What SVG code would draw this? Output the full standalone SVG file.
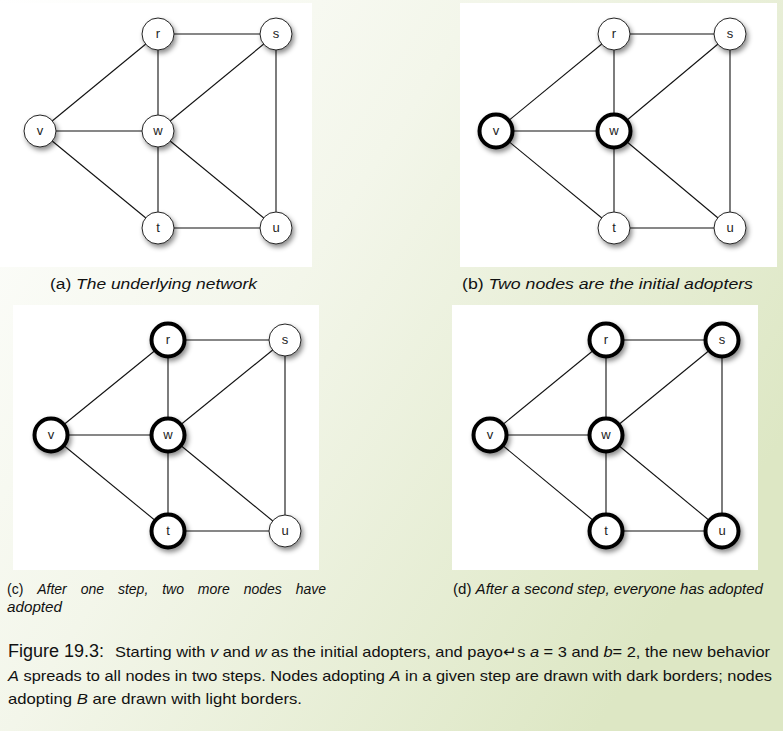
<svg xmlns="http://www.w3.org/2000/svg" width="783" height="731" viewBox="0 0 783 731">
<defs>
<linearGradient id="bg" x1="0" y1="0" x2="1" y2="0.6">
<stop offset="0" stop-color="#ffffff"/>
<stop offset="0.45" stop-color="#f3f6ea"/>
<stop offset="1" stop-color="#dde7c4"/>
</linearGradient>
<filter id="sh" x="-50%" y="-50%" width="200%" height="200%">
<feDropShadow dx="2" dy="3" stdDeviation="2.5" flood-color="#000" flood-opacity="0.45"/>
</filter>
</defs>
<style>
.panel{fill:#ffffff}
.e{stroke:#111;stroke-width:1.1;fill:none}
.n{fill:#fff;stroke:#222;stroke-width:1;filter:url(#sh)}
.n.a{stroke:#000;stroke-width:4}
.lb{font-family:"Liberation Sans",Arial,sans-serif;font-size:13px;fill:#222;text-anchor:middle}
.cap{font-family:"Liberation Sans",Arial,sans-serif;font-size:14px;fill:#111}
.it{font-style:italic}
.fig{font-family:"Liberation Sans",Arial,sans-serif;font-size:15px;fill:#111}
</style>
<rect x="0" y="0" width="783" height="731" fill="url(#bg)"/>
<rect class="panel" x="0" y="3" width="312" height="264"/>
<rect class="panel" x="460" y="3" width="317" height="264"/>
<rect class="panel" x="13" y="305" width="306" height="265"/>
<rect class="panel" x="452" y="305" width="306" height="265"/>

<g id="connectors">
<g>
<line class="e" x1="158" y1="34" x2="276" y2="34"/>
<line class="e" x1="158" y1="34" x2="40" y2="131"/>
<line class="e" x1="158" y1="34" x2="158" y2="131"/>
<line class="e" x1="276" y1="34" x2="158" y2="131"/>
<line class="e" x1="276" y1="34" x2="276" y2="228"/>
<line class="e" x1="40" y1="131" x2="158" y2="131"/>
<line class="e" x1="40" y1="131" x2="158" y2="228"/>
<line class="e" x1="158" y1="131" x2="158" y2="228"/>
<line class="e" x1="158" y1="131" x2="276" y2="228"/>
<line class="e" x1="158" y1="228" x2="276" y2="228"/>
</g>
<g>
<line class="e" x1="614" y1="34" x2="730" y2="34"/>
<line class="e" x1="614" y1="34" x2="496" y2="131"/>
<line class="e" x1="614" y1="34" x2="614" y2="131"/>
<line class="e" x1="730" y1="34" x2="614" y2="131"/>
<line class="e" x1="730" y1="34" x2="730" y2="228"/>
<line class="e" x1="496" y1="131" x2="614" y2="131"/>
<line class="e" x1="496" y1="131" x2="614" y2="228"/>
<line class="e" x1="614" y1="131" x2="614" y2="228"/>
<line class="e" x1="614" y1="131" x2="730" y2="228"/>
<line class="e" x1="614" y1="228" x2="730" y2="228"/>
</g>
<g>
<line class="e" x1="168" y1="340" x2="285" y2="340"/>
<line class="e" x1="168" y1="340" x2="51" y2="435"/>
<line class="e" x1="168" y1="340" x2="168" y2="435"/>
<line class="e" x1="285" y1="340" x2="168" y2="435"/>
<line class="e" x1="285" y1="340" x2="285" y2="531"/>
<line class="e" x1="51" y1="435" x2="168" y2="435"/>
<line class="e" x1="51" y1="435" x2="168" y2="531"/>
<line class="e" x1="168" y1="435" x2="168" y2="531"/>
<line class="e" x1="168" y1="435" x2="285" y2="531"/>
<line class="e" x1="168" y1="531" x2="285" y2="531"/>
</g>
<g>
<line class="e" x1="606" y1="340" x2="722" y2="340"/>
<line class="e" x1="606" y1="340" x2="490" y2="435"/>
<line class="e" x1="606" y1="340" x2="606" y2="435"/>
<line class="e" x1="722" y1="340" x2="606" y2="435"/>
<line class="e" x1="722" y1="340" x2="722" y2="531"/>
<line class="e" x1="490" y1="435" x2="606" y2="435"/>
<line class="e" x1="490" y1="435" x2="606" y2="531"/>
<line class="e" x1="606" y1="435" x2="606" y2="531"/>
<line class="e" x1="606" y1="435" x2="722" y2="531"/>
<line class="e" x1="606" y1="531" x2="722" y2="531"/>
</g>
</g>

<g id="a-r"><circle class="n" cx="158" cy="34" r="16"/><text class="lb" x="158" y="38">r</text></g>
<g id="a-s"><circle class="n" cx="276" cy="34" r="16"/><text class="lb" x="276" y="38">s</text></g>
<g id="a-v"><circle class="n" cx="40" cy="131" r="16"/><text class="lb" x="40" y="135">v</text></g>
<g id="a-w"><circle class="n" cx="158" cy="131" r="16"/><text class="lb" x="158" y="135">w</text></g>
<g id="a-t"><circle class="n" cx="158" cy="228" r="16"/><text class="lb" x="158" y="232">t</text></g>
<g id="a-u"><circle class="n" cx="276" cy="228" r="16"/><text class="lb" x="276" y="232">u</text></g>

<g id="b-r"><circle class="n" cx="614" cy="34" r="16"/><text class="lb" x="614" y="38">r</text></g>
<g id="b-s"><circle class="n" cx="730" cy="34" r="16"/><text class="lb" x="730" y="38">s</text></g>
<g id="b-v"><circle class="n a" cx="496" cy="131" r="16.5"/><text class="lb" x="496" y="135">v</text></g>
<g id="b-w"><circle class="n a" cx="614" cy="131" r="16.5"/><text class="lb" x="614" y="135">w</text></g>
<g id="b-t"><circle class="n" cx="614" cy="228" r="16"/><text class="lb" x="614" y="232">t</text></g>
<g id="b-u"><circle class="n" cx="730" cy="228" r="16"/><text class="lb" x="730" y="232">u</text></g>

<g id="c-r"><circle class="n a" cx="168" cy="340" r="16.5"/><text class="lb" x="168" y="344">r</text></g>
<g id="c-s"><circle class="n" cx="285" cy="340" r="16"/><text class="lb" x="285" y="344">s</text></g>
<g id="c-v"><circle class="n a" cx="51" cy="435" r="16.5"/><text class="lb" x="51" y="439">v</text></g>
<g id="c-w"><circle class="n a" cx="168" cy="435" r="16.5"/><text class="lb" x="168" y="439">w</text></g>
<g id="c-t"><circle class="n a" cx="168" cy="531" r="16.5"/><text class="lb" x="168" y="535">t</text></g>
<g id="c-u"><circle class="n" cx="285" cy="531" r="16"/><text class="lb" x="285" y="535">u</text></g>

<g id="d-r"><circle class="n a" cx="606" cy="340" r="16.5"/><text class="lb" x="606" y="344">r</text></g>
<g id="d-s"><circle class="n a" cx="722" cy="340" r="16.5"/><text class="lb" x="722" y="344">s</text></g>
<g id="d-v"><circle class="n a" cx="490" cy="435" r="16.5"/><text class="lb" x="490" y="439">v</text></g>
<g id="d-w"><circle class="n a" cx="606" cy="435" r="16.5"/><text class="lb" x="606" y="439">w</text></g>
<g id="d-t"><circle class="n a" cx="606" cy="531" r="16.5"/><text class="lb" x="606" y="535">t</text></g>
<g id="d-u"><circle class="n a" cx="722" cy="531" r="16.5"/><text class="lb" x="722" y="535">u</text></g>

<text class="cap" x="50" y="289" textLength="207" lengthAdjust="spacingAndGlyphs">(a)  <tspan class="it">The underlying network</tspan></text>
<text class="cap" x="462" y="289" textLength="291" lengthAdjust="spacingAndGlyphs">(b)  <tspan class="it">Two nodes are the initial adopters</tspan></text>
<text class="cap" x="7" y="594" word-spacing="10">(c) <tspan class="it">After one step, two more nodes have</tspan></text>
<text class="cap it" x="7" y="612" textLength="55" lengthAdjust="spacingAndGlyphs">adopted</text>
<text class="cap" x="453" y="594" textLength="310" lengthAdjust="spacingAndGlyphs">(d)  <tspan class="it">After a second step, everyone has adopted</tspan></text>

<g id="caption">
<text class="fig" x="8" y="657"><tspan font-size="18">Figure 19.3:</tspan></text>
<text class="fig" x="115" y="657" textLength="655" lengthAdjust="spacingAndGlyphs">Starting with <tspan class="it">v</tspan> and <tspan class="it">w</tspan> as the initial adopters, and payo↵s <tspan class="it">a</tspan> = 3 and <tspan class="it">b</tspan>= 2, the new behavior</text>
<text class="fig" x="8" y="681" textLength="764" lengthAdjust="spacingAndGlyphs"><tspan class="it">A</tspan> spreads to all nodes in two steps. Nodes adopting <tspan class="it">A</tspan> in a given step are drawn with dark borders; nodes</text>
<text class="fig" x="8" y="704" textLength="294" lengthAdjust="spacingAndGlyphs">adopting <tspan class="it">B</tspan> are drawn with light borders.</text>
</g>
</svg>
